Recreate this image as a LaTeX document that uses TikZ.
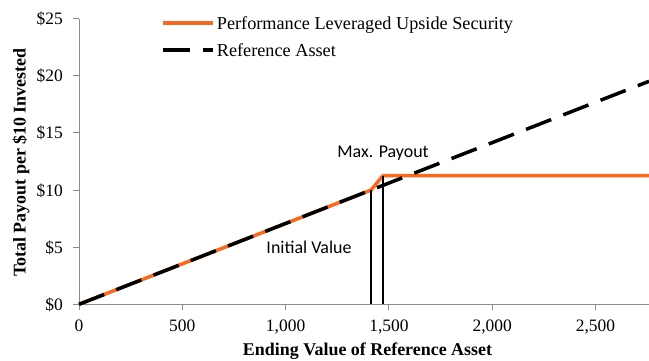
\documentclass[tikz,border=0pt]{standalone}
\usepackage{fontspec}
\setmainfont{Liberation Serif}
\newfontfamily\calibri{Carlito}
\definecolor{perf}{RGB}{250,104,30}
\definecolor{axisgray}{RGB}{140,140,140}
\begin{document}
\begin{tikzpicture}[x=1bp,y=1bp,
  axisline/.style={axisgray, line width=1bp},
  perfline/.style={perf, line width=3.5bp, line join=round},
  refline/.style={black, line width=3.5bp, dash pattern=on 27bp off 13bp},
  guide/.style={black, line width=1.3bp},
  ticklab/.style={font=\fontsize{17.5}{20}\selectfont, inner sep=0pt},
  axtitle/.style={font=\fontsize{18}{20}\selectfont\bfseries, inner sep=0pt},
  annot/.style={font=\calibri\fontsize{18}{20}\selectfont, inner sep=0pt},
  legtext/.style={font=\fontsize{18.3}{20}\selectfont, inner sep=0pt, anchor=base west}]
\useasboundingbox (0,0) rectangle (649,360);
% axes
\coordinate (ax0) at (79,55.7);
\coordinate (axtop) at (79,341.45);
\coordinate (axright) at (649,55.7);
\draw[axisline] (axtop) -- (ax0) -- (axright);
% y ticks and labels
\foreach \v/\y in {0/55.7,5/112.85,10/170,15/227.15,20/284.3,25/341.45}{
  \coordinate (yt\v) at (79,\y);
  \draw[axisline] (yt\v) -- ++(-6,0);
  \node[ticklab, anchor=base east] (yl\v) at (63,\y-6) {\$\v};
}
% x ticks and labels
\foreach \s/\x/\t in {0/79/0,500/182.3/500,1000/285.6/{1,000},1500/388.9/{1,500},2000/492.2/{2,000},2500/595.5/{2,500}}{
  \coordinate (xt\s) at (\x,55.7);
  \draw[axisline] (xt\s) -- ++(0,-6);
  \node[ticklab, anchor=base] (xl\s) at (\x,29) {\t};
}
% data
\begin{scope}[shift={(79,55.7)}, x=0.2066bp, y=11.43bp]
  \coordinate (o) at (0,0);
  \coordinate (iv) at (1414,10);
  \coordinate (ivb) at (1414,0);
  \coordinate (mp) at (1471,11.25);
  \coordinate (mpb) at (1471,0);
  \coordinate (oe) at (2759,11.25);
  \coordinate (re) at (2759,19.51);
  \draw[perfline] (o) -- (iv) -- (mp) -- (oe);
  \draw[refline] (o) -- (re);
  \draw[guide] (ivb) -- (iv);
  \draw[guide] (mpb) -- (mp);
\end{scope}
% annotations
\node[annot] (maxp) at (383,207) {Max. Payout};
\node[annot] (initv) at (309,113) {Initial Value};
% legend
\coordinate (lp1) at (162.7,337);
\coordinate (lp2) at (212.7,337);
\draw[perf, line width=3.5bp] (lp1) -- (lp2);
\node[legtext] (lpt) at (216.7,331) {Performance Leveraged Upside Security};
\coordinate (lr1) at (163,310);
\coordinate (lr2) at (212.7,310);
\draw[refline] (lr1) -- (lr2);
\node[legtext] (lrt) at (216.7,304) {Reference Asset};
% axis titles
\node[axtitle, rotate=90] (ytitle) at (21,197.5) {Total Payout per \$10 Invested};
\node[axtitle, anchor=base] (xtitle) at (367.5,4.8) {Ending Value of Reference Asset};
\end{tikzpicture}
\end{document}
